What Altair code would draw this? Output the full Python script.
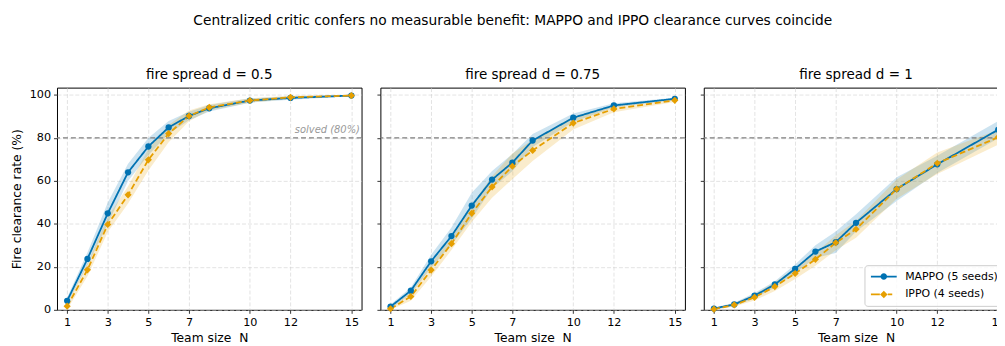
import altair as alt
import pandas as pd

# ---------------- data ----------------
team_sizes = [1, 2, 3, 4, 5, 6, 7, 8, 10, 12, 15]
x_ticks = [1, 3, 5, 7, 10, 12, 15]
y_ticks = [0, 20, 40, 60, 80, 100]
methods = ["MAPPO (5 seeds)", "IPPO (4 seeds)"]
spreads = ["0.5", "0.75", "1"]

mappo_d05 = [4.2, 23.7, 44.9, 64.0, 76.0, 84.9, 90.2, 93.8, 97.4, 98.6, 99.7]
mappo_d05_sd = [1.5, 3.0, 5.0, 4.0, 4.0, 3.0, 2.0, 1.5, 1.0, 0.8, 0.3]
ippo_d05 = [1.7, 18.6, 39.7, 53.5, 69.8, 82.0, 90.2, 94.2, 97.4, 98.9, 99.7]
ippo_d05_sd = [1.5, 3.0, 3.5, 4.0, 5.0, 4.0, 2.5, 1.5, 1.0, 0.7, 0.3]

mappo_d075 = [1.5, 8.9, 22.6, 34.3, 48.5, 60.6, 68.5, 78.8, 89.4, 95.1, 98.2]
mappo_d075_sd = [1.0, 1.5, 3.0, 4.0, 6.0, 4.0, 4.0, 3.0, 2.0, 1.0, 0.5]
ippo_d075 = [0.5, 6.2, 18.5, 30.8, 44.9, 57.2, 66.8, 74.2, 86.9, 93.5, 97.5]
ippo_d075_sd = [0.5, 2.0, 3.0, 3.0, 4.0, 5.0, 6.0, 5.0, 3.0, 1.5, 0.8]

mappo_d1 = [0.6, 2.5, 6.6, 11.8, 19.1, 27.1, 31.5, 40.5, 56.2, 67.7, 83.8]
mappo_d1_sd = [0.5, 0.8, 1.2, 1.5, 2.0, 3.0, 5.0, 4.0, 5.5, 4.0, 4.0]
ippo_d1 = [0.3, 2.3, 5.8, 10.8, 16.9, 23.5, 31.2, 37.5, 56.2, 68.2, 80.3]
ippo_d1_sd = [0.3, 0.8, 1.5, 2.0, 2.5, 3.0, 3.5, 4.0, 4.5, 5.0, 3.5]

series = {
    ("0.5", methods[0]): (mappo_d05, mappo_d05_sd),
    ("0.5", methods[1]): (ippo_d05, ippo_d05_sd),
    ("0.75", methods[0]): (mappo_d075, mappo_d075_sd),
    ("0.75", methods[1]): (ippo_d075, ippo_d075_sd),
    ("1", methods[0]): (mappo_d1, mappo_d1_sd),
    ("1", methods[1]): (ippo_d1, ippo_d1_sd),
}

rows = []
for (d, m), (vals, sds) in series.items():
    for n, v, s in zip(team_sizes, vals, sds):
        rows.append({"d": d, "method": m, "N": n, "mean": v,
                     "lo": max(0.0, v - s), "hi": min(100.0, v + s)})
df = pd.DataFrame(rows)

colors = ["#0072B2", "#E69F00"]
FONT = "DejaVu Sans"

# legend symbols: line + marker (custom paths, unit = sqrt(size)/2)
path_mappo = ("M-2.6,-0.18H-0.5V0.18H-2.6Z M0.5,-0.18H2.6V0.18H0.5Z "
              "M-0.66,0A0.66,0.66,0,1,1,0.66,0A0.66,0.66,0,1,1,-0.66,0Z")
path_ippo = ("M-2.6,-0.18H-0.8V0.18H-2.6Z M0.8,-0.18H1.7V0.18H0.8Z "
             "M0,-0.75L0.75,0L0,0.75L-0.75,0Z")


def panel(d, first, last):
    sub = df[df.d == d]
    xs = alt.Scale(domain=[0.5, 15.5], nice=False, zero=False)
    ys = alt.Scale(domain=[0, 103.4], nice=False, zero=False)
    xax = alt.Axis(values=x_ticks, title="Team size\u00a0 N", format="d", titlePadding=4)
    ytitle = "Fire clearance rate (%)" if first else None
    yax = alt.Axis(values=y_ticks, title=ytitle, labels=first, titlePadding=5.5)

    def X(f):
        return alt.X(f, scale=xs, axis=xax)

    def Y(f):
        return alt.Y(f, scale=ys, axis=yax)

    col = alt.Color("method:N", scale=alt.Scale(domain=methods, range=colors), legend=None)

    band = alt.Chart(sub).mark_area(opacity=0.2).encode(
        x=X("N:Q"), y=Y("lo:Q"), y2="hi:Q", color=col, detail="method:N",
    )
    ref = alt.Chart(pd.DataFrame({"v": [80]})).mark_rule(
        color="#7f7f7f", strokeDash=[5, 3], strokeWidth=1.1
    ).encode(y=Y("v:Q"))
    line = alt.Chart(sub).mark_line(strokeWidth=1.8).encode(
        x=X("N:Q"), y=Y("mean:Q"), color=col,
        strokeDash=alt.StrokeDash("method:N", scale=alt.Scale(domain=methods, range=[[1, 0], [6, 3]]), legend=None),
    )
    pts = alt.Chart(sub).mark_point(filled=True, opacity=1).encode(
        x=X("N:Q"), y=Y("mean:Q"), color=col,
        shape=alt.Shape("method:N", scale=alt.Scale(domain=methods, range=["circle", "diamond"]), legend=None),
        size=alt.Size("method:N", scale=alt.Scale(domain=methods, range=[40, 52]), legend=None),
    )
    layers = [band, ref, line, pts]
    if first:
        txt = alt.Chart(pd.DataFrame({"x": [15.42], "y": [80], "t": ["solved (80%)"]})).mark_text(
            align="right", baseline="bottom", dy=-3, fontSize=10, fontStyle="italic",
            font=FONT, color="#999999"
        ).encode(x=X("x:Q"), y=Y("y:Q"), text="t:N")
        layers.append(txt)
    if last:
        leg = alt.Chart(sub).mark_point(filled=True, opacity=0).encode(
            x=X("N:Q"), y=Y("mean:Q"),
            color=alt.Color("method:N", scale=alt.Scale(domain=methods, range=colors),
                            legend=alt.Legend(title=None, orient="bottom-right")),
            shape=alt.Shape("method:N", scale=alt.Scale(domain=methods, range=[path_mappo, path_ippo]),
                            legend=alt.Legend(title=None, orient="bottom-right")),
        )
        layers.append(leg)
    return alt.layer(*layers).resolve_scale(color="independent", shape="independent",
                                            size="independent").properties(
        width=307, height=224,
        title=alt.TitleParams(f"fire spread d = {d}", fontSize=13.6, font=FONT,
                              fontWeight="normal", color="black", offset=6),
    )


chart = alt.hconcat(
    panel("0.5", True, False),
    panel("0.75", False, False),
    panel("1", False, True),
    spacing=12,
).resolve_legend(color="independent", shape="independent").properties(
    title=alt.TitleParams(
        "Centralized critic confers no measurable benefit: MAPPO and IPPO clearance curves coincide",
        fontSize=13.9, font=FONT, fontWeight="normal", color="black", anchor="middle",
        offset=40, dx=3),
    autosize=alt.AutoSizeParams(type="none"),
    padding={"left": 49.4, "top": 78, "right": 947.6, "bottom": 260},
).configure_view(stroke="black", strokeWidth=1).configure_axis(
    labelFont=FONT, labelFontSize=11.3, labelColor="black",
    titleFont=FONT, titleFontSize=12.4, titleFontWeight="normal", titleColor="black",
    tickColor="black", tickSize=3.5, tickWidth=0.8, domain=False,
    labelPadding=3,
    grid=True, gridColor="#cccccc", gridOpacity=0.7, gridDash=[4, 2], gridWidth=0.8,
).configure_legend(
    labelFont=FONT, labelFontSize=11, labelColor="black",
    symbolSize=100, symbolOpacity=1, symbolStrokeWidth=0,
    offset=4, padding=6, rowPadding=6, labelOffset=16, symbolOffset=8,
    strokeColor="#cccccc", fillColor="rgba(255,255,255,0.8)", cornerRadius=3,
)

chart.save("out.html", embed_options={"renderer": "svg", "actions": False})
